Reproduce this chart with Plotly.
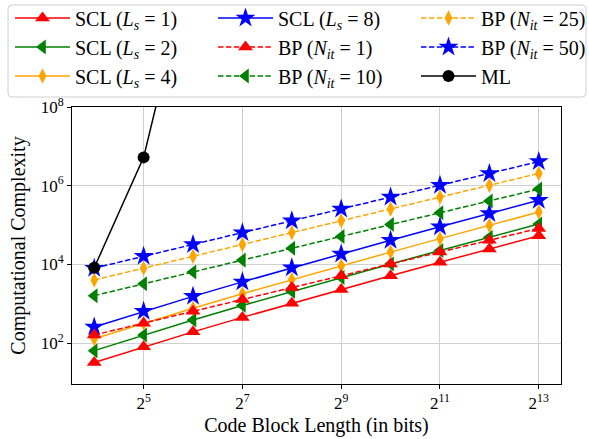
import plotly.graph_objects as go

# Code block lengths (bits)
block_len = [16, 32, 64, 128, 256, 512, 1024, 2048, 4096, 8192]

# Complexity of successive-cancellation list decoding
scl_l1 = [32, 80, 192, 448, 1024, 2304, 5120, 11264, 24576, 53248]
scl_l2 = [64, 160, 384, 896, 2048, 4608, 10240, 22528, 49152, 106496]
scl_l4 = [128, 320, 768, 1792, 4096, 9216, 20480, 45056, 98304, 212992]
scl_l8 = [256, 640, 1536, 3584, 8192, 18432, 40960, 90112, 196608, 425984]

# Complexity of belief-propagation decoding
bp_1 = [160, 320, 640, 1280, 2560, 5120, 10240, 20480, 40960, 81920]
bp_10 = [1600, 3200, 6400, 12800, 25600, 51200, 102400, 204800, 409600, 819200]
bp_25 = [4000, 8000, 16000, 32000, 64000, 128000, 256000, 512000, 1024000, 2048000]
bp_50 = [8000, 16000, 32000, 64000, 128000, 256000, 512000, 1024000, 2048000, 4096000]

# Maximum-likelihood decoding (grows far beyond the visible range)
ml_len = [16, 32, 64]
ml = [8192, 5.24e6, 8.2e11]

x_tickvals = [32, 128, 512, 2048, 8192]
x_ticktext = ["2<sup>5</sup>", "2<sup>7</sup>", "2<sup>9</sup>", "2<sup>11</sup>", "2<sup>13</sup>"]
y_tickvals = [1e2, 1e4, 1e6, 1e8]
y_ticktext = ["10<sup>2</sup>", "10<sup>4</sup>", "10<sup>6</sup>", "10<sup>8</sup>"]

RED, GREEN, ORANGE, BLUE = "#ff0000", "#008000", "#ffa500", "#0000ff"
DASH = "5.5px,2.4px"

W, H = 589, 439
M_L, M_R, M_T, M_B = 72, 28, 107, 55
PW, PH = W - M_L - M_R, H - M_T - M_B


def px_x(p):
    """Pixel column -> paper x."""
    return (p - M_L) / PW


def px_y(p):
    """Pixel row (from top) -> paper y."""
    return (H - M_B - p) / PH


def rounded_box(x0, y0, x1, y1, r):
    """SVG path (paper coords) for a rounded rectangle given in pixels."""
    pts = [
        f"M{px_x(x0 + r)},{px_y(y0)}",
        f"L{px_x(x1 - r)},{px_y(y0)}",
        f"Q{px_x(x1)},{px_y(y0)} {px_x(x1)},{px_y(y0 + r)}",
        f"L{px_x(x1)},{px_y(y1 - r)}",
        f"Q{px_x(x1)},{px_y(y1)} {px_x(x1 - r)},{px_y(y1)}",
        f"L{px_x(x0 + r)},{px_y(y1)}",
        f"Q{px_x(x0)},{px_y(y1)} {px_x(x0)},{px_y(y1 - r)}",
        f"L{px_x(x0)},{px_y(y0 + r)}",
        f"Q{px_x(x0)},{px_y(y0)} {px_x(x0 + r)},{px_y(y0)}",
        "Z",
    ]
    return " ".join(pts)


series = [
    # name, x, y, color, symbol, size, dash, legend column
    ("SCL (<i>L<sub>s</sub></i> = 1)", block_len, scl_l1, RED, "triangle-up", 13, "solid", "legend"),
    ("SCL (<i>L<sub>s</sub></i> = 2)", block_len, scl_l2, GREEN, "triangle-left", 13, "solid", "legend"),
    ("SCL (<i>L<sub>s</sub></i> = 4)", block_len, scl_l4, ORANGE, "diamond-tall", 11, "solid", "legend"),
    ("SCL (<i>L<sub>s</sub></i> = 8)", block_len, scl_l8, BLUE, "star", 15, "solid", "legend2"),
    ("BP (<i>N<sub>it</sub></i> = 1)", block_len, bp_1, RED, "triangle-up", 13, DASH, "legend2"),
    ("BP (<i>N<sub>it</sub></i> = 10)", block_len, bp_10, GREEN, "triangle-left", 13, DASH, "legend2"),
    ("BP (<i>N<sub>it</sub></i> = 25)", block_len, bp_25, ORANGE, "diamond-tall", 11, DASH, "legend3"),
    ("BP (<i>N<sub>it</sub></i> = 50)", block_len, bp_50, BLUE, "star", 15, DASH, "legend3"),
    ("ML", ml_len, ml, "#000000", "circle", 12, "solid", "legend3"),
]

fig = go.Figure()
for i, (name, xs, ys, color, symbol, size, dash, leg) in enumerate(series):
    fig.add_trace(go.Scatter(
        x=xs, y=ys, name=name, mode="lines+markers",
        line=dict(color=color, width=1.5, dash=dash),
        marker=dict(color=color, symbol=symbol, size=size, line=dict(width=0)),
        legend=leg, legendgroup=f"g{i}",
    ))

FONT = "Liberation Serif"
axis_common = dict(
    showline=True, linecolor="#000000", linewidth=1, mirror=True,
    ticks="outside", ticklen=4, tickcolor="#000000", tickwidth=1,
    showgrid=True, gridcolor="#d0d0d0", gridwidth=1,
    zeroline=False, tickfont=dict(family=FONT, size=17, color="#000000"),
)

legend_common = dict(
    orientation="v", xanchor="left", yanchor="top",
    bgcolor="rgba(0,0,0,0)", borderwidth=0,
    itemwidth=55, tracegroupgap=0,
    font=dict(family=FONT, size=20, color="#000000"),
)

LEG_TOP = -1.5
fig.update_layout(
    width=W, height=H,
    margin=dict(l=M_L, r=M_R, t=M_T, b=M_B, autoexpand=False),
    paper_bgcolor="#ffffff", plot_bgcolor="#ffffff",
    font=dict(family=FONT, size=17, color="#000000"),
    xaxis=dict(
        type="log", range=[1.0687, 4.0489],
        tickvals=x_tickvals, ticktext=x_ticktext,
        title=dict(text="Code Block Length (in bits)", font=dict(family=FONT, size=20), standoff=5),
        **axis_common,
    ),
    yaxis=dict(
        type="log", range=[0.958, 8.0],
        tickvals=y_tickvals, ticktext=y_ticktext,
        title=dict(text="Computational Complexity", font=dict(family=FONT, size=20), standoff=9),
        **axis_common,
    ),
    legend=dict(x=px_x(10), y=px_y(LEG_TOP), **legend_common),
    legend2=dict(x=px_x(213), y=px_y(LEG_TOP), **legend_common),
    legend3=dict(x=px_x(416), y=px_y(LEG_TOP), **legend_common),
    shapes=[dict(
        type="path", xref="paper", yref="paper",
        path=rounded_box(8, 5, 586, 97, 4),
        line=dict(color="#d0d0d0", width=1), fillcolor="#ffffff", layer="below",
    )],
    showlegend=True,
)

fig.write_html("out.html")
